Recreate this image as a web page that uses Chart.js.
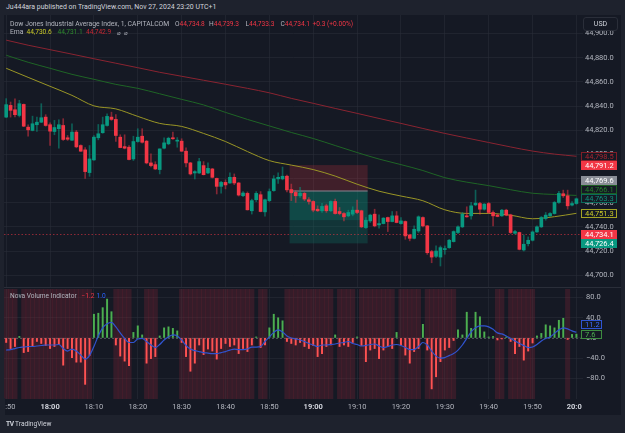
<!DOCTYPE html>
<html>
<head>
<meta charset="utf-8">
<title>Dow Jones Industrial Average Index, 1, CAPITALCOM</title>
<script src="https://cdn.jsdelivr.net/npm/chart.js@4.4.1/dist/chart.umd.min.js"></script>
<style>
  html, body { margin: 0; padding: 0; }
  body { width: 625px; height: 433px; background: #1e222d; position: relative; overflow: hidden;
         font-family: Roboto, "Liberation Sans", Arial, sans-serif; }
  #pane { position: absolute; left: 4px; top: 15px; width: 617px; height: 400px; background: #151924; }
  canvas { position: absolute; left: 0; }
  #priceChart { top: 15px; }
  #novaChart { top: 288px; }
  #sep { position: absolute; left: 4px; top: 287px; width: 617px; height: 1px; background: #2a2e39; }
  .cover { position: absolute; }
  .t { position: absolute; white-space: nowrap; line-height: 9px; font-size: 6.8px; color: #b2b5be; }
  .r { color: #f23645; }
  #usd { position: absolute; left: 583px; top: 17px; width: 33px; height: 12px; border: 1px solid #2a2e39;
         border-radius: 3px; background: #151924; color: #d1d4dc; font-size: 7px; line-height: 12px; text-align: center; }
</style>
</head>
<body>
<div id="pane"></div>
<canvas id="priceChart" width="625" height="273"></canvas>
<canvas id="novaChart" width="625" height="127"></canvas>
<div id="sep"></div>
<div class="cover" style="left:0;top:398px;width:5px;height:17px;background:#1e222d"></div>
<div class="cover" style="left:582px;top:399px;width:39px;height:16px;background:#151924"></div>

<div class="t" style="left:6px;top:3px;font-size:6.95px;color:#d1d4dc">Ju444ara published on TradingView.com, Nov 27, 2024 23:20 UTC+1</div>
<div class="t" style="left:10px;top:19.5px">Dow Jones Industrial Average Index, 1, CAPITALCOM</div>
<div class="t" style="left:175px;top:19.5px;font-size:6.6px">O<span class="r">44,734.8</span></div>
<div class="t" style="left:209px;top:19.5px;font-size:6.6px">H<span class="r">44,739.3</span></div>
<div class="t" style="left:245.5px;top:19.5px;font-size:6.6px">L<span class="r">44,733.3</span></div>
<div class="t" style="left:280.5px;top:19.5px;font-size:6.6px">C<span class="r">44,734.1</span></div>
<div class="t r" style="left:312.5px;top:19.5px;font-size:6.6px">+0.3 (+0.00%)</div>
<div class="t" style="left:10px;top:28px">Ema</div>
<div class="t" style="left:26.5px;top:28px;font-size:6.6px;color:#c9c927">44,730.6</div>
<div class="t" style="left:57.5px;top:28px;font-size:6.6px;color:#2e8b2e">44,731.1</div>
<div class="t" style="left:86px;top:28px;font-size:6.6px;color:#c62832">44,742.9</div>
<div class="t" style="left:117px;top:28px;font-size:6px">&#8960;</div>
<div class="t" style="left:124px;top:28px;font-size:6px">&#8960;</div>
<div id="usd">USD</div>
<div class="t" style="left:10px;top:292px;font-size:6.6px">Nova Volume Indicator</div>
<div class="t r" style="left:81.5px;top:292px;font-size:6.6px">&minus;1.2</div>
<div class="t" style="left:96.5px;top:292px;font-size:6.6px;color:#2962ff">1.0</div>
<div class="t" style="left:6px;top:419.5px;color:#d1d4dc;font-size:6.6px"><b style="letter-spacing:-0.5px">TV</b>&nbsp;TradingView</div>

<script>
// 1-minute bars, 17:50 .. 20:00 (one empty slot at the right edge)
const startMinute = 17 * 60 + 50;
const slotCount = 132;
const times = [];
for (let m = 0; m < slotCount; m++) {
  const t = startMinute + m;
  times.push(Math.floor(t / 60) + ':' + String(t % 60).padStart(2, '0'));
}
const timeTicks = ['17:50', '18:00', '18:10', '18:20', '18:30', '18:40', '18:50', '19:00', '19:10', '19:20', '19:30', '19:40', '19:50', '20:00'];
const majorTicks = ['18:00', '19:00', '20:00'];

const opens = [44830.9, 44840.6, 44837.0, 44832.3, 44841.4, 44822.6, 44819.9, 44824.6, 44826.7, 44830.9,
  44824.6, 44819.0, 44821.3, 44824.0, 44813.8, 44811.8, 44818.5, 44807.4, 44803.8, 44785.0,
  44795.5, 44813.8, 44818.0, 44824.0, 44830.9, 44829.0, 44814.3, 44806.5, 44806.0, 44796.3,
  44810.7, 44815.1, 44811.0, 44793.0, 44791.6, 44787.5, 44805.2, 44808.8, 44813.8, 44811.0,
  44811.0, 44802.7, 44793.0, 44784.7, 44784.7, 44790.8, 44784.7, 44788.0, 44780.2, 44773.6,
  44776.9, 44776.4, 44781.1, 44776.4, 44765.9, 44767.8, 44753.4, 44762.6, 44766.7, 44752.5,
  44761.8, 44770.1, 44779.8, 44779.8, 44782.0, 44771.0, 44768.6, 44765.8, 44767.8, 44762.5,
  44761.1, 44754.7, 44753.4, 44757.5, 44753.4, 44761.1, 44752.8, 44751.1, 44749.2, 44750.6,
  44753.9, 44753.4, 44739.5, 44745.0, 44750.6, 44741.7, 44742.8, 44747.8, 44744.5, 44749.2,
  44742.8, 44744.5, 44733.4, 44730.6, 44736.7, 44747.8, 44740.9, 44719.6, 44715.7, 44715.1,
  44721.3, 44722.9, 44727.9, 44735.4, 44740.1, 44749.2, 44749.2, 44758.3, 44759.4, 44754.7,
  44759.4, 44752.0, 44749.8, 44749.2, 44753.9, 44750.0, 44734.8, 44735.4, 44721.0, 44726.2,
  44729.0, 44735.9, 44740.1, 44747.0, 44749.2, 44751.1, 44760.3, 44767.5, 44765.8, 44758.1,
  44759.4];
const highs = [44846.2, 44843.4, 44846.0, 44844.8, 44841.8, 44824.6, 44831.7, 44830.9, 44842.0, 44832.9,
  44826.2, 44828.2, 44828.7, 44829.6, 44815.7, 44825.4, 44819.9, 44808.0, 44805.7, 44807.4,
  44815.7, 44824.8, 44830.9, 44833.7, 44835.0, 44832.9, 44816.3, 44816.3, 44807.4, 44815.1,
  44821.3, 44821.3, 44811.6, 44800.5, 44794.0, 44804.6, 44813.8, 44814.3, 44818.5, 44814.0,
  44813.0, 44805.5, 44793.5, 44786.6, 44796.8, 44794.1, 44793.0, 44788.5, 44780.5, 44777.8,
  44779.0, 44784.7, 44783.9, 44776.8, 44769.3, 44769.0, 44763.0, 44769.3, 44769.3, 44763.0,
  44771.5, 44782.5, 44784.7, 44789.6, 44783.0, 44775.5, 44770.0, 44772.7, 44768.6, 44764.4,
  44761.7, 44757.5, 44759.5, 44758.9, 44761.7, 44763.1, 44756.1, 44752.0, 44753.9, 44756.7,
  44762.2, 44753.9, 44747.8, 44750.6, 44754.7, 44750.0, 44747.8, 44748.2, 44752.8, 44752.8,
  44747.8, 44745.0, 44734.0, 44740.9, 44749.2, 44748.4, 44741.3, 44720.7, 44724.3, 44724.3,
  44724.3, 44729.8, 44736.8, 44740.9, 44752.0, 44756.7, 44760.3, 44770.5, 44760.3, 44759.4,
  44760.3, 44753.4, 44750.6, 44754.7, 44754.7, 44750.6, 44737.3, 44735.8, 44733.4, 44731.8,
  44736.8, 44740.9, 44748.7, 44752.0, 44752.0, 44761.1, 44769.4, 44770.5, 44770.5, 44761.1,
  44764.0];
const lows = [44830.5, 44830.9, 44831.0, 44831.0, 44823.0, 44815.1, 44819.5, 44819.0, 44826.3, 44823.4,
  44807.5, 44816.3, 44805.2, 44811.6, 44811.6, 44811.5, 44805.5, 44802.5, 44780.2, 44781.9,
  44795.0, 44812.1, 44817.5, 44823.4, 44828.2, 44810.7, 44805.5, 44804.6, 44795.5, 44795.0,
  44810.1, 44809.4, 44792.2, 44789.6, 44787.5, 44783.9, 44804.6, 44808.0, 44812.4, 44806.0,
  44802.5, 44789.6, 44783.0, 44779.7, 44784.2, 44783.0, 44784.2, 44780.5, 44767.3, 44768.0,
  44771.5, 44776.0, 44775.0, 44765.6, 44765.0, 44754.0, 44750.7, 44761.0, 44752.5, 44749.0,
  44761.0, 44769.5, 44776.0, 44779.0, 44769.0, 44761.8, 44760.3, 44764.4, 44761.7, 44758.9,
  44752.5, 44752.8, 44752.0, 44752.0, 44752.8, 44750.6, 44750.0, 44745.0, 44748.4, 44749.2,
  44751.1, 44739.5, 44738.8, 44743.7, 44740.1, 44739.0, 44742.5, 44736.2, 44744.2, 44743.4,
  44742.3, 44729.8, 44728.5, 44730.2, 44735.4, 44740.1, 44717.3, 44710.4, 44714.6, 44707.7,
  44717.4, 44722.3, 44727.5, 44734.5, 44739.5, 44748.0, 44746.4, 44757.5, 44750.6, 44753.9,
  44751.1, 44740.9, 44748.4, 44748.7, 44749.2, 44734.5, 44734.0, 44721.0, 44720.1, 44724.3,
  44728.4, 44735.4, 44739.5, 44745.6, 44748.7, 44750.6, 44759.4, 44764.4, 44754.7, 44757.5,
  44758.8];
const closes = [44841.2, 44836.5, 44832.9, 44842.0, 44823.4, 44820.4, 44825.4, 44826.7, 44830.4, 44824.0,
  44819.3, 44822.3, 44824.6, 44812.4, 44812.6, 44818.5, 44806.3, 44802.7, 44785.8, 44796.3,
  44814.3, 44817.1, 44824.6, 44831.5, 44829.0, 44815.7, 44805.7, 44805.2, 44795.8, 44810.7,
  44814.3, 44810.1, 44793.0, 44790.8, 44788.0, 44804.6, 44809.6, 44813.4, 44813.0, 44811.5,
  44802.7, 44793.0, 44783.9, 44785.8, 44794.1, 44783.3, 44788.5, 44781.1, 44773.6, 44776.9,
  44774.8, 44781.1, 44776.4, 44766.4, 44768.1, 44754.2, 44761.8, 44767.8, 44752.8, 44762.5,
  44769.3, 44779.8, 44781.1, 44782.0, 44770.7, 44768.3, 44765.8, 44768.0, 44763.1, 44761.1,
  44753.9, 44753.4, 44757.0, 44753.4, 44761.1, 44751.1, 44751.1, 44748.4, 44752.0, 44753.9,
  44752.0, 44740.1, 44745.6, 44749.8, 44740.9, 44742.8, 44747.3, 44744.5, 44749.2, 44743.7,
  44745.0, 44732.6, 44730.6, 44738.1, 44748.4, 44740.9, 44718.7, 44715.1, 44720.1, 44722.9,
  44721.8, 44729.0, 44736.2, 44740.1, 44750.6, 44748.4, 44757.5, 44759.7, 44754.7, 44758.9,
  44752.0, 44749.2, 44748.7, 44753.9, 44749.8, 44735.4, 44736.2, 44721.5, 44725.7, 44729.0,
  44735.9, 44740.1, 44747.8, 44749.8, 44751.1, 44760.3, 44767.8, 44765.8, 44757.5, 44759.4,
  44763.3];

// EMA readings every 5 minutes
const emaTimes = ['17:50', '17:55', '18:00', '18:05', '18:10', '18:15', '18:20', '18:25', '18:30', '18:35',
  '18:40', '18:45', '18:50', '18:55', '19:00', '19:05', '19:10', '19:15', '19:20', '19:25',
  '19:30', '19:35', '19:40', '19:45', '19:50', '19:55', '20:00'];
const emaFast = [44871.3, 44863.8, 44856.4, 44848.9, 44840.2, 44837.7, 44831.5, 44825.7, 44823.2, 44817.4,
  44810.7, 44802.4, 44794.9, 44791.2, 44787.5, 44782.1, 44775.4, 44769.6, 44765.6, 44761.7,
  44754.2, 44751.2, 44751.2, 44749.7, 44746.8, 44748.5, 44751.3];
const emaMid = [44882.1, 44876.3, 44871.3, 44866.3, 44862.2, 44858.0, 44854.7, 44850.2, 44845.6, 44841.0,
  44834.8, 44829.0, 44823.6, 44818.2, 44813.2, 44807.4, 44801.6, 44796.2, 44791.6, 44786.7,
  44780.8, 44777.1, 44774.2, 44770.8, 44767.9, 44766.9, 44766.1];
const emaSlow = [44894.6, 44890.4, 44886.7, 44883.0, 44879.2, 44875.5, 44871.8, 44868.0, 44864.7, 44861.4,
  44858.1, 44854.7, 44851.0, 44846.4, 44842.3, 44838.1, 44834.0, 44829.8, 44825.7, 44821.5,
  44817.4, 44813.6, 44809.9, 44806.2, 44802.8, 44800.3, 44798.5];

const priceMin = 44689.5, priceMax = 44915.4;
const priceTicks = [44700, 44720, 44740, 44760, 44780, 44800, 44820, 44840, 44860, 44880, 44900];
const lastPrice = 44734.1;

// long/short position tool (bar indices and prices)
const positionFrom = 64.6, positionTo = 82.4;
const positionStop = 44791.2, positionEntry = 44769.6, positionReached = 44745.6, positionTarget = 44726.4;

const priceTagValues = [44798.5, 44791.2, 44769.6, 44766.1, 44763.3, 44751.3, 44734.1, 44726.4];

// Nova Volume Indicator
const novaHist = [-9, -21, -17, 3, -29, -27, -17, -7, -11, -15,
  -21, -17, -13, -54, -21, -39, -48, -48, -92, -35,
  47, 49, 60, 77, 52, -14, -36, -46, -55, 11,
  24, 6, -50, -41, -37, 4, 20, 22, 19, 14,
  -9, -37, -66, -50, -14, -33, -22, -26, -42, -21,
  -11, -17, -14, -31, -21, -27, -14, 2, -19, -14,
  20, 47, 40, 34, -7, -11, -14, -9, -17, -21,
  -15, -37, -31, -17, -14, 6, -17, -14, -17, -9,
  2, -15, -47, -24, -21, -41, -24, -17, -21, 11,
  -14, -34, -50, -27, -21, 27, -24, -101, -77, -47,
  -24, -19, -5, 16, 6, 51, 19, 51, 42, 12,
  2, 3, -4, -2, 2, -7, -31, -17, -44, -26,
  -10, 4, 9, 26, 24, 20, 35, 39, -3, 7,
  7.6];
const novaSignal = [-24, -23, -21, -19, -18, -17, -17, -16, -15, -14,
  -14, -14, -13, -21, -26, -22, -26, -34, -42, -35,
  -17, 4, 20, 28, 31, 22, 10, -1, -9, -9,
  -2, -1, -7, -14, -19, -13, -4, 2, 6, 4,
  -4, -15, -22, -25, -27, -29, -30, -31, -31, -29,
  -27, -24, -22, -23, -23, -22, -18, -18, -17, -7,
  2, 11, 16, 12, 4, 0, -2, -4, -7, -11,
  -14, -17, -14, -14, -13, -12, -10, -9, -7, -11,
  -13, -16, -15, -13, -12, -16, -19, -17, -14, -13,
  -15, -19, -23, -23, -17, -9, -14, -26, -36, -40,
  -39, -35, -31, -24, -14, -1, 12, 20, 24, 24,
  22, 17, 10, 8, 4, -1, -6, -11, -15, -19,
  -18, -13, -6, -1, 2, 9, 16, 20, 18, 14,
  11.2];
const novaMin = -121, novaMax = 97;
const novaTicks = [80, 40, 0, -40, -80];
const novaTagValues = [11.2, 7.6];

// styles
const family = 'Roboto, "Liberation Sans", Arial, sans-serif';
const upColor = '#089981', downColor = '#f23645';
const upWick = 'rgba(8,153,129,0.55)', downWick = 'rgba(242,54,69,0.5)';
const gridColor = 'rgba(42,46,57,0.55)';
const axisText = '#b2b5be';
const paneBg = '#151924';
const priceTagStyles = [
  { line: '#7f1d27', text: '#a8242f' },
  { fill: '#f23645', text: '#ffffff' },
  { fill: '#8a8d96', text: '#ffffff' },
  { line: '#1d5e22', text: '#25802b' },
  { line: '#0b6b5a', text: '#11917a' },
  { line: '#a3a324', text: '#c9c927' },
  { fill: '#f23645', text: '#ffffff' },
  { fill: '#089981', text: '#ffffff' }
];
const novaTagStyles = [
  { line: '#2f55d4', text: '#3d6bff' },
  { line: '#3d8c40', text: '#4caf50' }
];

const fmt = v => v.toLocaleString('en-US', { minimumFractionDigits: 1, maximumFractionDigits: 1 });
const fmtSigned = v => (v < 0 ? '\u2212' : '') + fmt(Math.abs(v));

function keepTimeTicks(scale) {
  scale.ticks = scale.ticks.filter(t => timeTicks.includes(times[t.value]));
}

function drawTags(chart, values, styles, width, gap, format) {
  const ctx = chart.ctx, y = chart.scales.y, left = chart.chartArea.right - 2;
  const items = values.map((v, k) => ({ v, s: styles[k], py: y.getPixelForValue(v) }))
    .sort((a, b) => b.py - a.py);
  for (let k = 1; k < items.length; k++) {
    if (items[k - 1].py - items[k].py < gap) items[k].py = items[k - 1].py - gap;
  }
  ctx.save();
  ctx.font = '7.5px ' + family;
  ctx.textBaseline = 'middle';
  items.forEach(it => {
    const top = Math.round(it.py - 4.5);
    ctx.fillStyle = it.s.fill || paneBg;
    ctx.fillRect(left, top, width, 9);
    if (it.s.line) {
      ctx.strokeStyle = it.s.line;
      ctx.lineWidth = 1;
      ctx.strokeRect(left + 0.5, top + 0.5, width - 1, 8);
    }
    ctx.fillStyle = it.s.text;
    ctx.fillText(format(it.v), left + 4, top + 5);
  });
  ctx.restore();
}

const pricePlugin = {
  id: 'priceExtras',
  beforeDatasetsDraw(chart) {
    const { ctx, chartArea } = chart;
    const x = chart.scales.x, y = chart.scales.y;
    const x1 = x.getPixelForValue(positionFrom), x2 = x.getPixelForValue(positionTo);
    const yStop = y.getPixelForValue(positionStop), yEntry = y.getPixelForValue(positionEntry);
    const yReached = y.getPixelForValue(positionReached), yTarget = y.getPixelForValue(positionTarget);
    ctx.save();
    ctx.fillStyle = 'rgba(242,54,69,0.2)';
    ctx.fillRect(x1, yStop, x2 - x1, yEntry - yStop);
    ctx.fillStyle = 'rgba(8,153,129,0.38)';
    ctx.fillRect(x1, yEntry, x2 - x1, yReached - yEntry);
    ctx.fillStyle = 'rgba(8,153,129,0.22)';
    ctx.fillRect(x1, yReached, x2 - x1, yTarget - yReached);
    ctx.fillStyle = '#868993';
    ctx.fillRect(x1, Math.round(yEntry) - 0.5, x2 - x1, 1);
    // last price line
    const yl = Math.round(y.getPixelForValue(lastPrice)) + 0.5;
    ctx.strokeStyle = 'rgba(242,54,69,0.55)';
    ctx.lineWidth = 1;
    ctx.setLineDash([1.5, 2]);
    ctx.beginPath();
    ctx.moveTo(chartArea.left, yl);
    ctx.lineTo(chartArea.right, yl);
    ctx.stroke();
    ctx.restore();
  },
  afterDraw(chart) {
    drawTags(chart, priceTagValues, priceTagStyles, 36, 9, fmt);
  }
};

const novaPlugin = {
  id: 'novaExtras',
  afterDatasetDraw(chart, args) {
    if (args.index !== 0) return;
    const { ctx, chartArea } = chart;
    const y0 = Math.round(chart.scales.y.getPixelForValue(0)) + 0.5;
    ctx.save();
    ctx.strokeStyle = 'rgba(180,183,190,0.35)';
    ctx.lineWidth = 1;
    ctx.setLineDash([2, 2]);
    ctx.beginPath();
    ctx.moveTo(chartArea.left, y0);
    ctx.lineTo(chartArea.right, y0);
    ctx.stroke();
    ctx.restore();
  },
  afterDraw(chart) {
    drawTags(chart, novaTagValues, novaTagStyles, 21, 9.5, fmtSigned);
  }
};

const emaLine = (values, color) => ({
  type: 'line',
  data: emaTimes.map((t, k) => ({ x: t, y: values[k] })),
  borderColor: color,
  borderWidth: 1,
  pointRadius: 0,
  cubicInterpolationMode: 'monotone',
  order: 5
});

new Chart(document.getElementById('priceChart'), {
  type: 'bar',
  data: {
    labels: times,
    datasets: [
      emaLine(emaSlow, '#8a2431'),
      emaLine(emaMid, '#1f6526'),
      emaLine(emaFast, '#9a9626'),
      {
        data: lows.map((l, i) => [l, highs[i]]),
        backgroundColor: c => closes[c.dataIndex] >= opens[c.dataIndex] ? upWick : downWick,
        barThickness: 1,
        grouped: false,
        order: 2
      },
      {
        data: opens.map((o, i) => [o, closes[i]]),
        backgroundColor: c => closes[c.dataIndex] >= opens[c.dataIndex] ? upColor : downColor,
        barThickness: 3,
        minBarLength: 1,
        grouped: false,
        order: 1
      }
    ]
  },
  options: {
    responsive: false,
    animation: false,
    events: [],
    layout: { padding: { left: 4, right: 0, top: 0, bottom: 0 } },
    plugins: { legend: { display: false }, tooltip: { enabled: false } },
    scales: {
      x: {
        offset: true,
        grid: { color: gridColor, offset: false, drawTicks: false },
        border: { display: false },
        ticks: { display: false, autoSkip: false },
        afterBuildTicks: keepTimeTicks,
        afterFit: s => { s.height = 0; s.paddingLeft = 0; s.paddingRight = 0; }
      },
      y: {
        position: 'right',
        min: priceMin,
        max: priceMax,
        grid: { color: gridColor, drawTicks: false },
        border: { display: false },
        afterBuildTicks: s => { s.ticks = priceTicks.map(v => ({ value: v })); },
        ticks: { padding: 2, color: axisText, font: { size: 7.5, family }, callback: v => fmt(v) },
        afterFit: s => { s.width = 42; s.paddingTop = 0; s.paddingBottom = 0; }
      }
    }
  },
  plugins: [pricePlugin]
});

new Chart(document.getElementById('novaChart'), {
  type: 'bar',
  data: {
    labels: times,
    datasets: [
      {
        yAxisID: 'yb',
        data: novaHist.map(v => (v < 0 ? [0, 1] : null)),
        backgroundColor: 'rgba(140,38,56,0.27)',
        barPercentage: 1,
        categoryPercentage: 1,
        grouped: false,
        order: 3
      },
      {
        data: novaHist,
        backgroundColor: c => novaHist[c.dataIndex] >= 0 ? '#4caf50' : '#ff5252',
        barThickness: 1.3,
        grouped: false,
        order: 2
      },
      {
        type: 'line',
        data: novaSignal,
        borderColor: '#3054d0',
        borderWidth: 1.2,
        pointRadius: 0,
        cubicInterpolationMode: 'monotone',
        order: 1
      }
    ]
  },
  options: {
    responsive: false,
    animation: false,
    events: [],
    layout: { padding: { left: 4, right: 0, top: 1, bottom: 0 } },
    plugins: { legend: { display: false }, tooltip: { enabled: false } },
    scales: {
      x: {
        offset: true,
        grid: { color: gridColor, offset: false, drawTicks: false },
        border: { display: false },
        afterBuildTicks: keepTimeTicks,
        ticks: {
          autoSkip: false,
          maxRotation: 0,
          padding: 4,
          color: c => majorTicks.includes(c.tick && c.tick.label) ? '#d1d4dc' : axisText,
          font: c => ({ size: 7.5, family, weight: majorTicks.includes(c.tick && c.tick.label) ? 'bold' : 'normal' })
        },
        afterFit: s => { s.height = 16; s.paddingLeft = 0; s.paddingRight = 0; }
      },
      y: {
        position: 'right',
        min: novaMin,
        max: novaMax,
        grid: { color: gridColor, drawTicks: false },
        border: { display: false },
        afterBuildTicks: s => { s.ticks = novaTicks.map(v => ({ value: v })); },
        ticks: { padding: 3, color: axisText, font: { size: 7.5, family }, callback: v => fmtSigned(v) },
        afterFit: s => { s.width = 42; s.paddingTop = 0; s.paddingBottom = 0; }
      },
      yb: { display: false, min: 0, max: 1 }
    }
  },
  plugins: [novaPlugin]
});
</script>
</body>
</html>
